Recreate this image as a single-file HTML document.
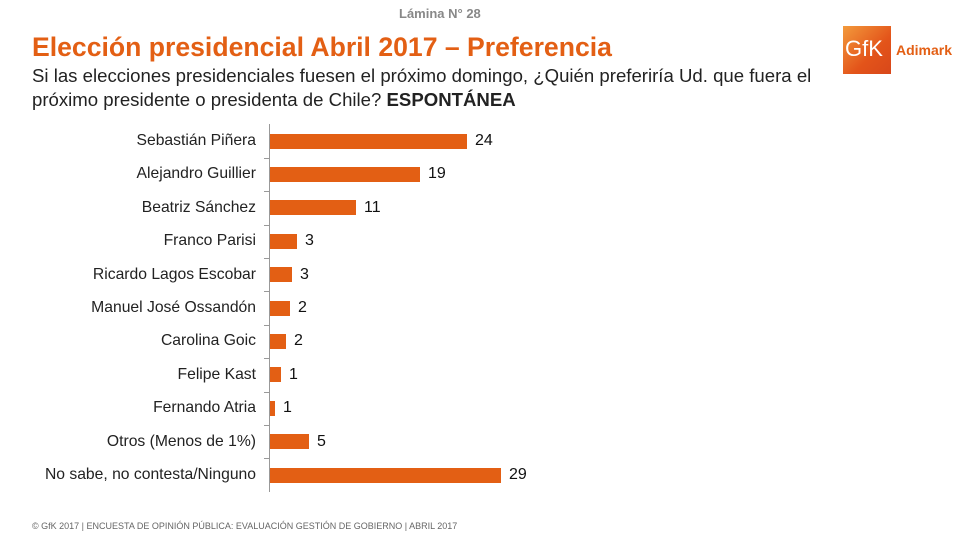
<!DOCTYPE html>
<html><head><meta charset="utf-8"><style>
body{margin:0;width:958px;height:539px;background:#fff;position:relative;overflow:hidden;font-family:"Liberation Sans",Arial,sans-serif}
.a{position:absolute;white-space:nowrap}
.lab{position:absolute;right:702px;font-size:15.7px;color:#222;transform:translateY(-50%)}
.bar{position:absolute;left:270px;height:15px;background:#e35f14}
.val{position:absolute;font-size:16px;color:#111;transform:translateY(-50%)}
</style></head><body>
<div class="a" style="left:399px;top:6px;font-size:13px;font-weight:bold;color:#888">Lámina N° 28</div>
<div class="a" style="left:32px;top:32px;font-size:26.6px;font-weight:bold;color:#e35f14">Elección presidencial Abril 2017 – Preferencia</div>
<div class="a" style="left:32px;top:64px;font-size:18.6px;color:#222;line-height:24px">Si las elecciones presidenciales fuesen el próximo domingo, ¿Quién preferiría Ud. que fuera el<br>próximo presidente o presidenta de Chile? <b>ESPONTÁNEA</b></div>
<div class="a" style="left:843px;top:26px;width:48px;height:48px;background:linear-gradient(135deg,#f39a3c,#e3541a 60%,#d8471a)"></div>
<div class="a" style="left:845px;top:36px;font-size:22px;color:#fff">GfK</div>
<div class="a" style="left:896px;top:42px;font-size:14px;font-weight:bold;color:#e35f14">Adimark</div>
<div class="a" style="left:269px;top:124px;width:1px;height:368px;background:#999"></div>
<div id="c"></div>
<div class="a" style="left:32px;top:521px;font-size:9px;color:#666">© GfK 2017 | ENCUESTA DE OPINIÓN PÚBLICA: EVALUACIÓN GESTIÓN DE GOBIERNO | ABRIL 2017</div>
<script>
var d=[["Sebastián Piñera",24,197],["Alejandro Guillier",19,150],["Beatriz Sánchez",11,86],["Franco Parisi",3,27],["Ricardo Lagos Escobar",3,22],["Manuel José Ossandón",2,20],["Carolina Goic",2,16],["Felipe Kast",1,11],["Fernando Atria",1,5],["Otros (Menos de 1%)",5,39],["No sabe, no contesta/Ninguno",29,231]];
var h="";d.forEach(function(r,i){var y=141+i*33.4;
h+='<div class="lab" style="top:'+y+'px">'+r[0]+'</div>';
h+='<div class="bar" style="top:'+(y-7.5)+'px;width:'+r[2]+'px"></div>';
h+='<div class="val" style="top:'+y+'px;left:'+(270+r[2]+8)+'px">'+r[1]+'</div>';
if(i<10)h+='<div class="a" style="left:264px;top:'+(y+16.7)+'px;width:5px;height:1px;background:#999"></div>';});
document.getElementById("c").innerHTML=h;
</script>
</body></html>
